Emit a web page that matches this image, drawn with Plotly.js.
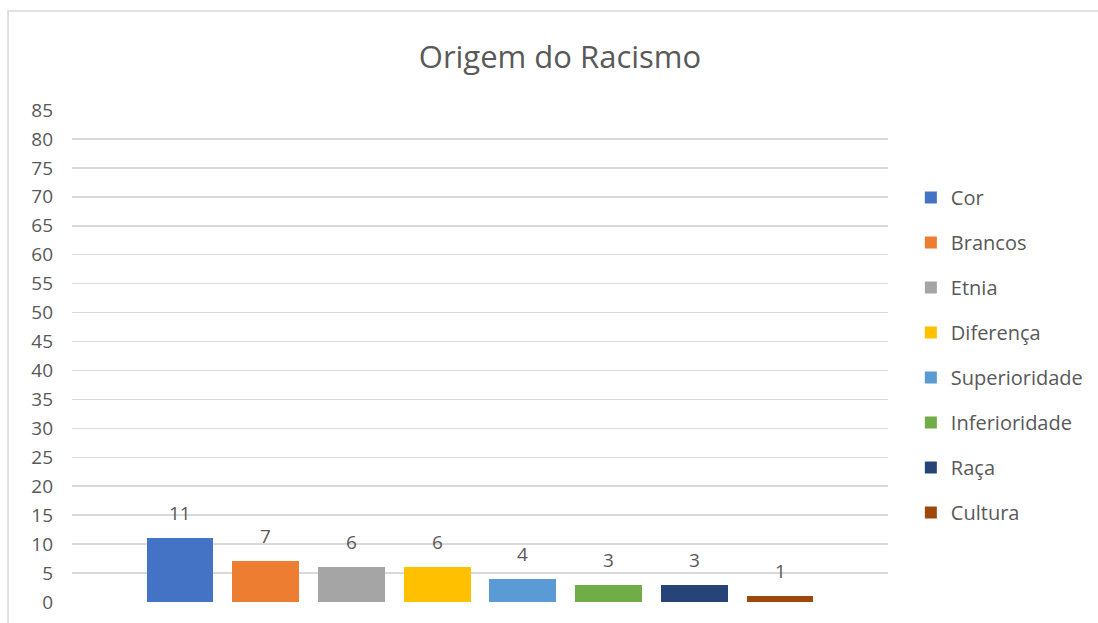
<!DOCTYPE html>
<html>
<head>
<meta charset="utf-8">
<script src="https://cdn.plot.ly/plotly-3.0.1.min.js"></script>
<style>html,body{margin:0;padding:0;background:#fff;}#chart{width:1098px;height:623px;}</style>
</head>
<body>
<div id="chart"></div>
<script>
const categories = ["Cor", "Brancos", "Etnia", "Diferença", "Superioridade", "Inferioridade", "Raça", "Cultura"];
const values = [11, 7, 6, 6, 4, 3, 3, 1];
const colors = ["#4472C4", "#ED7D31", "#A5A5A5", "#FFC000", "#5B9BD5", "#70AD47", "#264478", "#9E480E"];
const yTicks = [0, 5, 10, 15, 20, 25, 30, 35, 40, 45, 50, 55, 60, 65, 70, 75, 80, 85];

const FONT = "'Open Sans', 'Noto Sans', sans-serif";
const TXT = "#595959";

const traces = categories.map((name, i) => ({
  type: "bar",
  name: name,
  x: [i],
  y: [values[i]],
  width: 0.78,
  marker: {color: colors[i], line: {width: 0}},
  legendgroup: "g" + i,
  hoverinfo: "name+y"
}));

const annotations = categories.map((name, i) => ({
  x: i, y: values[i], xref: "x", yref: "y",
  text: String(values[i]), showarrow: false,
  yanchor: "bottom", yshift: 10,
  font: {family: FONT, size: 19, color: TXT}
}));

const layout = {
  width: 1098, height: 623,
  margin: {l: 72, r: 210, t: 110, b: 21, autoexpand: false},
  paper_bgcolor: "#ffffff",
  plot_bgcolor: "#ffffff",
  title: {text: "Origem do Racismo", x: 0.51, xanchor: "center", y: 0.908, yanchor: "middle",
          font: {family: FONT, size: 31, color: TXT}},
  showlegend: true,
  legend: {x: 1.028, xanchor: "left", y: 0.862, yanchor: "top",
           font: {family: FONT, size: 20, color: TXT},
           tracegroupgap: 16, traceorder: "grouped", itemwidth: 30, bgcolor: "rgba(0,0,0,0)"},
  xaxis: {range: [-1.26, 8.26], showticklabels: false, showgrid: false, zeroline: false,
          showline: false, ticks: "", fixedrange: true},
  yaxis: {range: [0, 85], tickvals: yTicks, ticktext: yTicks.map(String),
          showgrid: true, gridcolor: "#d9d9d9", gridwidth: 1.5, zeroline: false, showline: false,
          ticks: "", ticklabelstandoff: 18,
          tickfont: {family: FONT, size: 19, color: TXT}, fixedrange: true},
  bargap: 0,
  annotations: annotations,
  shapes: [{type: "rect", xref: "paper", yref: "paper",
            x0: -0.0784, x1: 1.5, y0: -0.2, y1: 1.2012,
            line: {color: "#d9d9d9", width: 1.5}, fillcolor: "rgba(0,0,0,0)", layer: "below"}]
};

Plotly.newPlot("chart", traces, layout, {displayModeBar: false, staticPlot: true});
</script>
</body>
</html>
